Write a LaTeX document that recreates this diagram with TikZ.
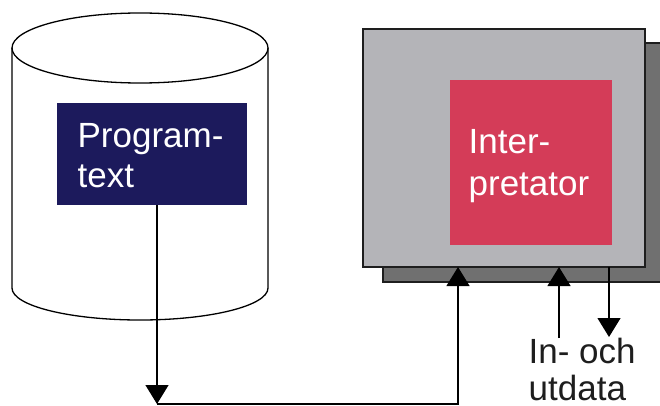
\documentclass[tikz,border=0pt]{standalone}
\usepackage{fontspec}
\setmainfont{Liberation Sans}
\usetikzlibrary{arrows.meta}
\definecolor{navy}{RGB}{28,26,92}
\definecolor{crimson}{RGB}{212,60,88}
\definecolor{panel}{RGB}{180,180,184}
\definecolor{shade}{RGB}{112,112,112}
\definecolor{ink}{RGB}{30,30,30}
\begin{document}
\begin{tikzpicture}[x=1pt,y=-1pt,line width=1.3pt,
  block/.style={anchor=north west,inner sep=0pt,outer sep=0pt},
  lbl/.style={anchor=base west,inner sep=0pt,align=left},
  tri/.style={-{Triangle[width=23pt,length=19pt]}}]
\useasboundingbox (0,0) rectangle (660,406);
\clip (0,0) rectangle (660,406);
% storage cylinder
\draw[fill=white] (12,48) -- (12,288) arc[start angle=180,end angle=0,x radius=128,y radius=32] -- (268,48);
\draw (140,48) ellipse[x radius=128,y radius=35];
% program text block (label anchored at the baseline of its last line)
\node[block,fill=navy,minimum width=190pt,minimum height=102pt] (prog) at (57,103) {};
\node[lbl,text=white,font=\fontsize{35}{40}\selectfont] (progtxt) at (77,187) {Program-\\text};
% interpreter machine
\node[block,fill=shade,draw=ink,minimum width=300pt,minimum height=239pt] (shadow) at (383,43) {};
\node[block,fill=panel,draw=ink,minimum width=282pt,minimum height=238pt] (machine) at (363,29) {};
\node[block,fill=crimson,minimum width=162pt,minimum height=165pt] (interp) at (450,80) {};
\node[lbl,text=white,font=\fontsize{35}{42}\selectfont] (interptxt) at (468,195) {Inter-\\pretator};
% input / output
\node[lbl,text=ink,font=\fontsize{35}{37}\selectfont] (io) at (528,400) {In- och\\utdata};
% connectors
\coordinate (c1) at (157,404);
\coordinate (c2) at (458,404);
\coordinate (inp) at (559,338);
\coordinate (outp) at (609,337);
\draw[tri] (prog.south -| c1) -- (c1);
\draw[tri] (c1) -- (c2) -- (c2 |- machine.south);
\draw[tri] (inp) -- (inp |- machine.south);
\draw[tri] (outp |- machine.south) -- (outp);
\end{tikzpicture}
\end{document}
